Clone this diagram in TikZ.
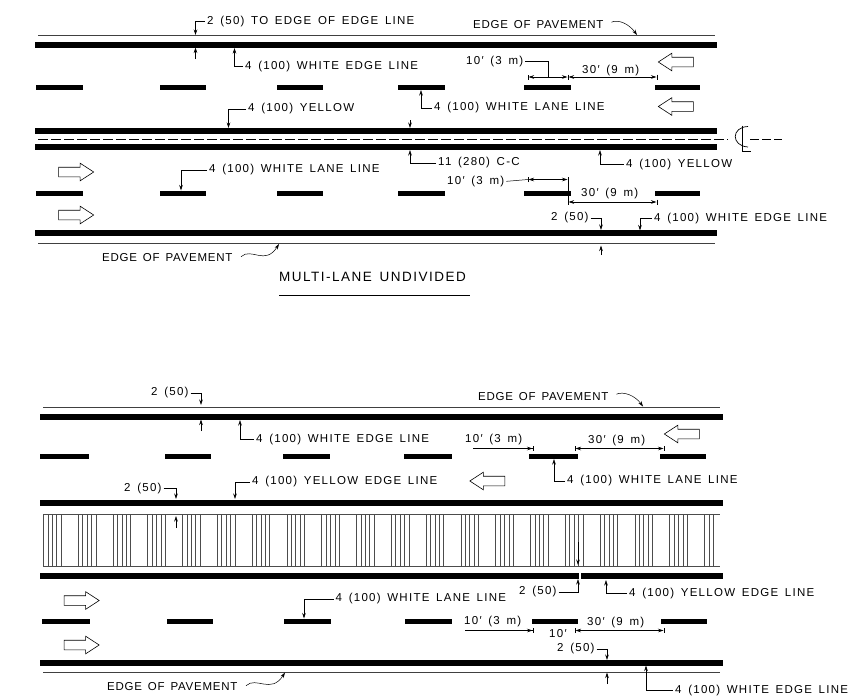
\documentclass[tikz,border=0pt]{standalone}
\usepackage{fontspec}
\setmainfont{Liberation Sans}[LetterSpace=11,WordSpace=1.5]
\usetikzlibrary{shapes.arrows,arrows.meta}
\begin{document}
\begin{tikzpicture}[x=1pt,y=-1pt,>={Stealth[length=5.5pt,width=3.5pt]}]
      % Define styles for lines and nodes
      \tikzstyle{stripe} = [line width=6pt]
      \tikzstyle{laneline} = [line width=5pt]
      \tikzstyle{pavement} = [line width=.7pt,black!75]
      \tikzstyle{leader} = [->,line width=.5pt,shorten <=2pt]
      \tikzstyle{dimline} = [|<->|,line width=.5pt]
      \tikzstyle{dimhalf} = [-{>[sep=0pt]|},line width=.5pt]
      \tikzstyle{hatch} = [line width=.55pt,black!70]
      \tikzstyle{callout} = [anchor=west,inner sep=0pt,yshift=-1pt,font=\fontsize{11.5}{13}\selectfont]
      \tikzstyle{pavelabel} = [callout,font=\fontsize{11.5}{13}\selectfont\addfontfeatures{LetterSpace=6.5}]
      \tikzstyle{lanearrow} = [draw,single arrow,line width=.6pt,inner sep=4.5pt,
      minimum height=35pt,single arrow head extend=4pt,
      single arrow tip angle=66,single arrow head indent=0pt]

      \useasboundingbox (0,0) rectangle (849,697);

      % Top road: pavement edges and stripes
      \draw[pavement] (38,35) -- (715,35);
      \draw[pavement] (38,243.5) -- (715,243.5);
      \draw[stripe] (35,45) -- (717,45);
      \draw[stripe] (35,131) -- (717,131);
      \draw[stripe] (35,147) -- (717,147);
      \draw[stripe] (35,233) -- (717,233);
      \draw[laneline] (36,87) -- (83,87) (160,87) -- (206,87) (277,87) -- (323,87)
      (398,87) -- (445,87) (524,87) -- (571,87) (655,87) -- (700,87);
      \draw[laneline] (36,193.5) -- (83,193.5) (160,193.5) -- (206,193.5) (277,193.5) -- (323,193.5)
      (398,193.5) -- (445,193.5) (524,193.5) -- (571,193.5) (655,193.5) -- (700,193.5);

      % Centerline and its symbol
      \draw[line width=.6pt,dash pattern=on 10pt off 3pt] (38,139) -- (728,139);
      \draw[line width=.6pt,dash pattern=on 9pt off 3pt] (750,139) -- (782,139);
      \draw[line width=.7pt] (748,126.5) .. controls (731,127) and (731,146) .. (748,147);
      \draw[line width=.7pt] (742,125.5) -- (742,151.5) -- (751,151.5);

      % Top road: direction arrows
      \node[lanearrow,shape border rotate=180] (leftA) at (679.5,62) {};
      \node[lanearrow,shape border rotate=180] (leftB) at (679.5,106.5) {};
      \node[lanearrow] (rightA) at (72.5,172) {};
      \node[lanearrow] (rightB) at (72.5,215) {};

      % Top road: labels
      \node[callout] (offsetTop) at (207,20.5) {2 (50) TO EDGE OF EDGE LINE};
      \node[callout] (edgeTop) at (245,65.5) {4 (100) WHITE EDGE LINE};
      \node[pavelabel] (paveTop) at (473,24) {EDGE OF PAVEMENT};
      \node[callout] (tenTop) at (466,60.5) {10′ (3 m)};
      \node[callout] (thirtyTop) at (582,70) {30′ (9 m)};
      \node[callout] (laneTop) at (434,107) {4 (100) WHITE LANE LINE};
      \node[callout] (yellowTop) at (248,108) {4 (100) YELLOW};
      \node[callout] (spacing) at (438,162) {11 (280) C-C};
      \node[callout] (yellowLow) at (626,163.5) {4 (100) YELLOW};
      \node[callout] (laneLow) at (209,169) {4 (100) WHITE LANE LINE};
      \node[callout] (tenLow) at (447,180.5) {10′ (3 m)};
      \node[callout] (thirtyLow) at (581,193) {30′ (9 m)};
      \node[callout] (offsetLow) at (551,217) {2 (50)};
      \node[callout] (edgeLow) at (654,217.5) {4 (100) WHITE EDGE LINE};
      \node[pavelabel] (paveLow) at (102,257) {EDGE OF PAVEMENT};
      \node[callout,font=\fontsize{13.5}{15}\selectfont] (titleTop) at (279,276) {MULTI-LANE UNDIVIDED};
      \draw[line width=.8pt] (279,295) -- (470,295);

      % Top road: free ends of the leaders
      \coordinate (a1) at (195.5,35);
      \coordinate (a2) at (195.5,47.5);
      \coordinate (a2s) at (195.5,61);
      \coordinate (a3) at (234.5,48);
      \coordinate (a4) at (637,35);
      \coordinate (a5) at (421,90);
      \coordinate (a6) at (228.5,128);
      \coordinate (a7) at (410,128);
      \coordinate (a7s) at (410,118);
      \coordinate (a8) at (410,150);
      \coordinate (a9) at (600,150);
      \coordinate (a10) at (181,190.5);
      \coordinate (a11) at (601,230);
      \coordinate (a12) at (601,245.5);
      \coordinate (a12s) at (601,257);
      \coordinate (a13) at (640,230.5);
      \coordinate (a14) at (279,244);
      \coordinate (a15) at (548,77);

      % Top road: leaders
      \draw[leader] (offsetTop.west) -| (a1);
      \draw[leader] (a2s) -- (a2);
      \draw[leader] (edgeTop.west) -| (a3);
      \draw[leader] (paveTop.east) ++(6,-2) .. controls +(9,-4) and +(-8,-11) .. (a4);
      \draw[leader] (laneTop.west) -| (a5);
      \draw[leader] (yellowTop.west) -| (a6);
      \draw[leader] (a7s) -- (a7);
      \draw[leader] (spacing.west) -| (a8);
      \draw[leader] (yellowLow.west) -| (a9);
      \draw[leader] (laneLow.west) -| (a10);
      \draw[leader] (offsetLow.east) -| (a11);
      \draw[leader] (a12s) -- (a12);
      \draw[leader] (edgeLow.west) -| (a13);
      \draw[leader] (paveLow.east) ++(7,0) .. controls +(12,-11) and +(-14,22) .. (a14);
      \draw[line width=.5pt,shorten <=2pt] (tenTop.east) -| (a15);

      % Top road: dimensions
      \coordinate (b1) at (528,77);
      \coordinate (b2) at (568,77);
      \coordinate (b3) at (657,77);
      \coordinate (b4) at (528,179.5);
      \coordinate (b5) at (568,179.5);
      \coordinate (b6) at (568,202);
      \coordinate (b7) at (657,202);
      \draw[dimline] (b1) -- (b2);
      \draw[dimline] (b2) -- (b3);
      \draw[dimline] (b4) -- (b5);
      \draw[dimline] (b6) -- (b7);
      \draw[line width=.5pt,shorten <=2pt] (tenLow.east) -- (b4);
      \draw[line width=.5pt] (b5) -- (b6);

      % Bottom road: pavement edges and stripes
      \draw[pavement] (43,407.5) -- (720,407.5);
      \draw[pavement] (43,672) -- (720,672);
      \draw[stripe] (40,416.5) -- (723,416.5);
      \draw[stripe] (40,502.5) -- (723,502.5);
      \draw[stripe] (40,576) -- (579,576) (581,576) -- (723,576);
      \draw[stripe] (40,662.5) -- (723,662.5);
      \draw[laneline] (40,456) -- (89,456) (165,456) -- (211,456) (283,456) -- (330,456)
      (404,456) -- (452,456) (529,456) -- (578,456) (660,456) -- (706,456);
      \draw[laneline] (42,621.5) -- (90,621.5) (167,621.5) -- (213,621.5) (284,621.5) -- (331,621.5)
      (405,621.5) -- (452,621.5) (532,621.5) -- (578,621.5) (661,621.5) -- (707,621.5);

      % Hatched median
      \draw[hatch] (43,514) -- (720,514);
      \draw[hatch] (43,566) -- (720,566);
      \begin{scope}
        \clip (42,513) rectangle (716,567);
        \foreach \k in {0,...,19}
          \foreach \d in {0,4.4,8.8,13.2,17.6}
            \draw[hatch] ({43.4+34.79*\k+\d},514) -- ({43.4+34.79*\k+\d},566);
      \end{scope}

      % Bottom road: direction arrows
      \node[lanearrow,shape border rotate=180] (leftC) at (685.5,434) {};
      \node[lanearrow,shape border rotate=180] (leftD) at (491,481) {};
      \node[lanearrow] (rightC) at (78,600.5) {};
      \node[lanearrow] (rightD) at (78,645) {};

      % Bottom road: labels
      \node[callout] (gapTop) at (151,392) {2 (50)};
      \node[pavelabel] (paveUp) at (478,396) {EDGE OF PAVEMENT};
      \node[callout] (edgeUp) at (256,438.5) {4 (100) WHITE EDGE LINE};
      \node[callout] (tenUp) at (465,439) {10′ (3 m)};
      \node[callout] (thirtyUp) at (588,440) {30′ (9 m)};
      \node[callout] (laneUp) at (567,480) {4 (100) WHITE LANE LINE};
      \node[callout] (yellowUp) at (252,481) {4 (100) YELLOW EDGE LINE};
      \node[callout] (gapMid) at (124,487.5) {2 (50)};
      \node[callout] (gapLow) at (519,591) {2 (50)};
      \node[callout] (yellowDown) at (629,592.5) {4 (100) YELLOW EDGE LINE};
      \node[callout] (laneDown) at (335.5,598) {4 (100) WHITE LANE LINE};
      \node[callout] (tenDown) at (464,621) {10′ (3 m)};
      \node[callout] (thirtyDown) at (587,622) {30′ (9 m)};
      \node[callout] (tenShort) at (549,632.5) {10′};
      \node[callout] (gapDown) at (557,648) {2 (50)};
      \node[pavelabel] (paveDown) at (107,686) {EDGE OF PAVEMENT};
      \node[callout] (edgeDown) at (675,689.5) {4 (100) WHITE EDGE LINE};

      % Bottom road: free ends of the leaders
      \coordinate (c1) at (201,405);
      \coordinate (c2) at (201,419.5);
      \coordinate (c2s) at (201,433);
      \coordinate (c3) at (240,420);
      \coordinate (c4) at (643,406.5);
      \coordinate (c5) at (554,459);
      \coordinate (c6) at (235,499);
      \coordinate (c7) at (176,499);
      \coordinate (c8) at (176,516);
      \coordinate (c8s) at (176,530);
      \coordinate (c9) at (578,565);
      \coordinate (c9s) at (578,540);
      \coordinate (c10) at (578,579);
      \coordinate (c11) at (606,580);
      \coordinate (c12) at (304,618.5);
      \coordinate (c13) at (607,660);
      \coordinate (c14) at (607,672.5);
      \coordinate (c14s) at (607,686);
      \coordinate (c15) at (646,665.5);
      \coordinate (c16) at (285,672.5);

      % Bottom road: leaders
      \draw[leader] (gapTop.east) -| (c1);
      \draw[leader] (c2s) -- (c2);
      \draw[leader] (edgeUp.west) -| (c3);
      \draw[leader] (paveUp.east) ++(6,-2) .. controls +(9,-4) and +(-8,-11) .. (c4);
      \draw[leader] (laneUp.west) -| (c5);
      \draw[leader] (yellowUp.west) -| (c6);
      \draw[leader] (gapMid.east) -| (c7);
      \draw[leader] (c8s) -- (c8);
      \draw[leader] (c9s) -- (c9);
      \draw[leader] (gapLow.east) -| (c10);
      \draw[leader] (yellowDown.west) -| (c11);
      \draw[leader] (laneDown.west) -| (c12);
      \draw[leader] (gapDown.east) -| (c13);
      \draw[leader] (c14s) -- (c14);
      \draw[leader] (edgeDown.west) -| (c15);
      \draw[leader] (paveDown.east) ++(7,0) .. controls +(12,-11) and +(-14,22) .. (c16);

      % Bottom road: dimensions
      \coordinate (d1) at (473,448.5);
      \coordinate (d2) at (533,448.5);
      \coordinate (d3) at (575,448.5);
      \coordinate (d4) at (664,448.5);
      \coordinate (d5) at (465,630.5);
      \coordinate (d6) at (533,630.5);
      \coordinate (d7) at (575,630.5);
      \coordinate (d8) at (664,630.5);
      \draw[dimhalf] (d1) -- (d2);
      \draw[dimline] (d3) -- (d4);
      \draw[dimhalf] (d5) -- (d6);
      \draw[dimline] (d7) -- (d8);
\end{tikzpicture}
\end{document}
